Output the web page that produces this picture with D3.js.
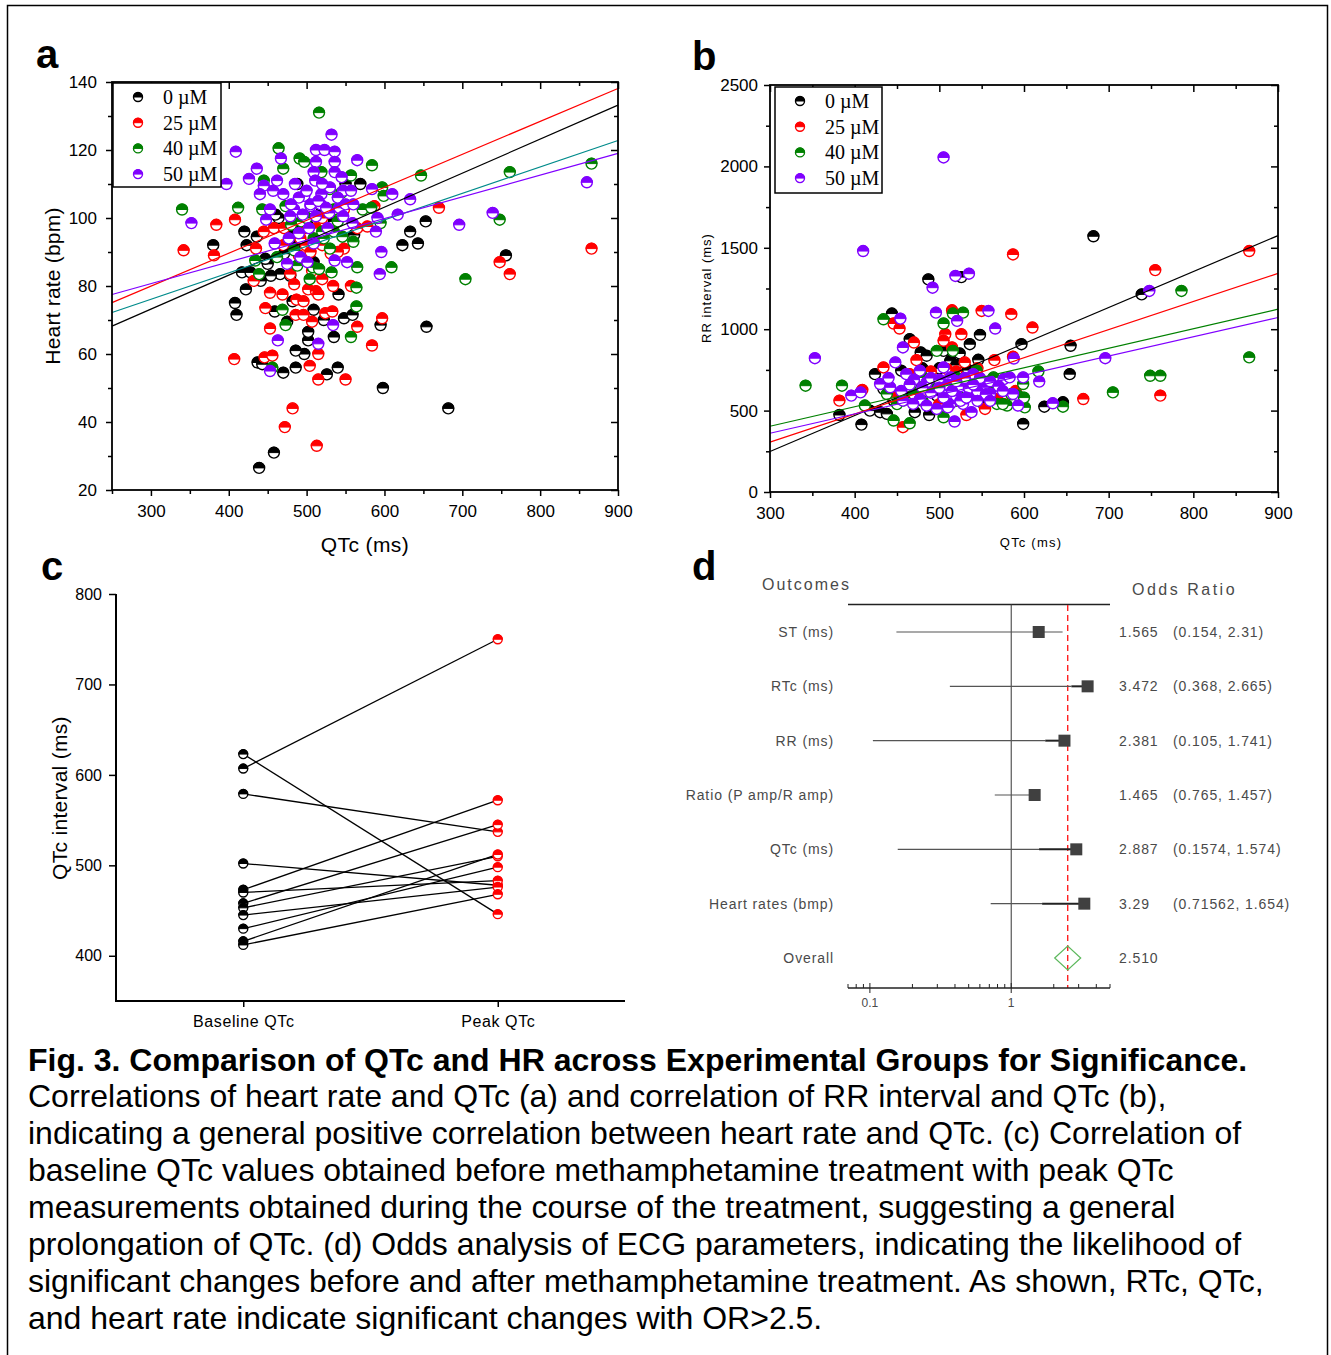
<!DOCTYPE html>
<html>
<head>
<meta charset="utf-8">
<script src="https://cdn.jsdelivr.net/npm/d3@7"></script>
<style>
  body { margin: 0; background: #fff; }
  svg text { font-family: "Liberation Sans", Arial, sans-serif; }
</style>
</head>
<body>
<svg id="fig" width="1331" height="1355"></svg>
<script>
// ---- DATA ----
const concLabels = ['0 \u00b5M', '25 \u00b5M', '40 \u00b5M', '50 \u00b5M'];

// panel a: [QTc (ms), heart rate (bpm)]
const hrQtc0 = [[439,26.5],[458,31],[682,44],[598,50],[654,68],[756,89],[526,54],[540,56],[486,56],[470,54.5],
  [437,57.5],[443,57],[497,60],[486,61],[502,64],[502,66.5],[535,65],[522,70],[548,70.5],[559,71.5],
  [595,68.5],[459,72.5],[509,73],[475,69.5],[482,75.5],[541,77.5],[410,71.5],[408,75],[422,79],[417,84],
  [428,84],[441,81.5],[466,83.5],[479,83],[450,86.5],[380,92],[423,92],[420,96],[436,94.5],[447,88],
  [471,89.5],[486,96],[501,98],[561,95],[623,92],[633,96],[643,92.5],[653,99],[550,110],[569,110],
  [488,110],[535,99],[464,100],[454,83],[484,92],[520,95],[509,87],[500,100],[520,102],[480,95],[460,101]];
const hrQtc25 = [[513,33],[472,38.5],[482,44],[515,52.5],[550,52.5],[504,56.5],[515,60],[407,58.5],[446,59],[456,59.5],
  [584,62.5],[453,67.5],[507,69.5],[486,71.5],[496,71.5],[524,72],[533,72.5],[565,68],[597,70.5],[447,73.5],
  [453,78],[469,77.5],[487,76],[496,75.5],[502,79],[512,78.5],[515,77.5],[484,80.5],[534,80],[557,80],
  [520,82],[479,83.5],[432,81.5],[507,84.5],[342,90.5],[381,89],[531,89.5],[548,91],[499,92],[435,91],
  [445,96],[458,97],[471,97],[492,94],[498,97],[512,97],[384,98],[408,99.5],[565,97],[578,97.5],
  [587,103.5],[670,103],[748,87],[761,83.5],[866,91],[520,100],[548,102.5],[490,89],[505,90],[520,92],
  [470,92],[540,90]];
const hrQtc40 = [[516,131],[464,120.5],[491,117.5],[497,116.5],[470,114.5],[584,115.5],[557,112.5],[519,113.5],[647,112.5],[761,113.5],
  [866,116],[445,111],[530,108.5],[545,107.5],[597,109],[599,106.5],[340,102.5],[412,103],[443,102.5],[473,103.5],
  [572,102.5],[583,103],[748,99.5],[535,96],[546,94.5],[522,94],[509,94],[484,90.5],[462,88.5],[434,87.5],
  [488,86],[508,85.5],[565,85.5],[609,85.5],[439,83.5],[504,82],[532,84],[564,79.5],[704,82],[469,73],
  [564,74],[473,68.5],[557,65],[456,56],[595,98.5],[493,99],[516,85],[535,102.5],[500,100],[520,96],
  [540,99],[480,98],[560,93],[530,91]];
const hrQtc50 = [[532,124.5],[512,120],[523,120],[536,119.5],[409,119.5],[467,117.5],[565,117],[512,116.5],[536,116.5],[436,114.5],
  [509,113.5],[536,113.5],[426,111.5],[462,111],[485,110],[511,111],[397,110],[445,109.5],[457,108],[497,106.5],
  [519,107],[547,108],[557,108],[584,108.5],[610,107],[633,105.5],[440,107],[453,102.5],[505,103.5],[518,104],
  [542,103],[484,102.5],[448,99.5],[479,100.5],[512,100.5],[529,101.5],[547,100.5],[591,100],[617,101],[739,101.5],
  [352,98.5],[559,98.5],[696,98],[860,110.5],[589,96],[490,95.5],[477,94],[459,92.5],[509,92.5],[492,88.5],
  [596,90],[475,86.5],[501,87],[536,87.5],[552,87],[594,83.5],[534,68.5],[463,64],[515,63],[453,55],
  [490,106],[500,108],[505,104],[515,105],[525,103],[530,109],[540,106],[550,104],[495,101],[520,110],
  [545,112],[480,104],[470,107],[560,104],[503,97],[527,97]];

// linear fits for panel a: [x0, y0, x1, y1]
const fitA = [[250,68.2,900,133.2],[250,75.1,900,138.1],[250,72.2,900,122.8],[250,77.5,900,119]];

// panel b: [QTc (ms), RR interval (ms)]
const rrQtc0 = [[682,1571],[739,1214],[487,1306],[526,1320],[444,1096],[465,939],[536,908],[548,965],[597,908],[655,898],
  [654,724],[546,812],[478,857],[485,837],[524,851],[424,724],[434,633],[382,473],[408,414],[418,500],
  [430,490],[438,480],[471,490],[488,473],[599,418],[624,524],[646,551],[505,867],[534,749],[455,745],
  [513,806],[568,561],[552,541],[446,561],[473,663],[497,592],[536,663],[520,724],[560,663],[465,582],
  [500,760],[520,780],[480,760],[540,700],[455,600]];
const rrQtc25 = [[866,1480],[587,1459],[755,1363],[515,1116],[550,1112],[585,1092],[610,1010],[446,1035],[453,1004],[507,969],
  [526,969],[470,918],[473,810],[565,810],[587,831],[434,765],[509,755],[530,796],[409,627],[382,561],
  [446,582],[670,571],[761,592],[457,398],[532,473],[554,510],[489,684],[540,704],[479,622],[568,571],
  [515,888],[505,929],[465,724],[576,541],[520,561],[490,740],[520,740],[545,760],[470,660],[500,540],
  [560,600],[590,620]];
const rrQtc40 = [[866,827],[786,1235],[749,714],[761,714],[705,612],[617,741],[528,1102],[516,1096],[434,1061],[505,1035],
  [342,653],[385,653],[412,531],[446,439],[465,422],[505,459],[646,524],[601,520],[580,531],[568,541],
  [593,592],[599,663],[556,663],[497,867],[516,867],[467,663],[493,633],[520,704],[532,602],[544,745],
  [438,602],[481,704],[457,561],[564,704],[520,561],[510,640],[530,640],[545,690],[470,600],[560,620],
  [585,600],[600,580],[480,560],[450,540],[575,540]];
const rrQtc50 = [[505,2055],[410,1480],[519,1327],[535,1341],[492,1255],[558,1112],[496,1102],[454,1065],[521,1051],[566,1004],
  [588,820],[353,822],[748,1235],[696,822],[618,678],[396,592],[407,612],[634,545],[518,433],[457,888],
  [448,796],[461,724],[477,745],[505,765],[513,704],[528,684],[540,724],[548,663],[430,663],[442,643],
  [457,561],[477,571],[505,622],[520,622],[536,602],[528,541],[513,541],[538,490],[576,694],[583,704],
  [587,602],[593,531],[599,704],[552,643],[497,510],[469,541],[544,582],[485,673],[560,602],
  [490,700],[500,690],[510,660],[525,650],[535,640],[545,620],[555,600],[520,590],[505,580],[490,610],
  [480,640],[470,690],[465,660],[530,700],[548,700],[560,680],[570,650],[575,620],[515,620],[500,640],
  [540,660],[525,560],[545,560],[560,560],[510,520],[485,530],[455,620],[440,700],[520,680],[532,580]];

// linear fits for panel b: [x0, y0, x1, y1]
const fitB = [[300,249,900,1575],[300,306,900,1343],[300,404,900,1123],[300,361,900,1072]];

// panel c: paired QTc (ms)
const cCategories = ['Baseline QTc', 'Peak QTc'];
const baselineQtc = [623, 607, 579, 502, 473, 470, 458, 453, 445, 430, 416, 412];
const peakQtc     = [446, 750, 537, 478, 572, 483, 545, 510, 476, 498, 512, 468];

// panel d: forest plot
const outcomes = ['ST (ms)', 'RTc (ms)', 'RR (ms)', 'Ratio (P amp/R amp)', 'QTc (ms)', 'Heart rates  (bmp)'];
const oddsRatio = [1.565, 3.472, 2.381, 1.465, 2.887, 3.29];
const ciLow  = [0.154, 0.368, 0.105, 0.765, 0.1574, 0.71562];
const ciHigh = [2.31, 2.665, 1.741, 1.457, 1.574, 1.654];
const orLabels = ['1.565', '3.472', '2.381', '1.465', '2.887', '3.29'];
const ciLabels = ['(0.154, 2.31)', '(0.368, 2.665)', '(0.105, 1.741)', '(0.765, 1.457)', '(0.1574, 1.574)', '(0.71562, 1.654)'];
const overallOR = 2.510;
const overallLabel = '2.510';

const captionTitle = 'Fig. 3. Comparison of QTc and HR across Experimental Groups for Significance.';
const captionLines = [
  'Correlations of heart rate and QTc (a) and correlation of RR interval and QTc (b),',
  'indicating a general positive correlation between heart rate and QTc. (c) Correlation of',
  'baseline QTc values obtained before methamphetamine treatment with peak QTc',
  'measurements obtained during the course of the treatment, suggesting a general',
  'prolongation of QTc. (d) Odds analysis of ECG parameters, indicating the likelihood of',
  'significant changes before and after methamphetamine treatment. As shown, RTc, QTc,',
  'and heart rate indicate significant changes with OR>2.5.'
];

// ---- STYLES ----
const groupColors = ['#000000', '#ff0000', '#008000', '#8000ff'];
const fitAColors  = ['#000000', '#ff0000', '#008b8b', '#8000ff'];
const fitBColors  = ['#000000', '#ff0000', '#008000', '#8000ff'];

const svg = d3.select('#fig');
svg.append('rect').attr('width', 1331).attr('height', 1355).attr('fill', '#fff');
svg.append('rect').attr('x', 7.5).attr('y', 5.5).attr('width', 1320).attr('height', 1360)
  .attr('fill', 'none').attr('stroke', '#000').attr('stroke-width', 1.5);

// half-filled circle marker
function marker(g, cx, cy, color, r) {
  g.append('circle').attr('cx', cx).attr('cy', cy).attr('r', r)
    .attr('fill', '#fff').attr('stroke', color).attr('stroke-width', 1.4);
  g.append('path')
    .attr('d', `M${cx - r},${cy} A${r},${r} 0 0 1 ${cx + r},${cy} Z`)
    .attr('fill', color).attr('stroke', color).attr('stroke-width', 1);
}

function styleAxis(g, fs) {
  g.select('.domain').remove();
  g.selectAll('.tick line').attr('stroke', '#000').attr('stroke-width', 1.5);
  g.selectAll('.tick text').style('font-size', fs + 'px').attr('fill', '#000');
}

function panelLetter(txt, x, y) {
  svg.append('text').attr('x', x).attr('y', y).text(txt)
    .style('font-size', '40px').style('font-weight', 'bold');
}

// framed scatter panel (a, b)
function scatterPanel(opt) {
  const { xScale, yScale, groups, fits, fitColors, xMajor, xMinor, yMajor, yMinor, fs, r, padX, padY } = opt;
  const [x0, x1] = xScale.range();
  const [y0, y1] = yScale.range(); // bottom, top
  const g = svg.append('g');
  const fmt = d3.format('d');

  // minor ticks
  const minorTicks = (axisGen, vals, transform) => {
    const a = g.append('g').attr('transform', transform)
      .call(axisGen.tickValues(vals).tickFormat(''));
    styleAxis(a, fs);
  };
  minorTicks(d3.axisBottom(xScale).tickSize(4), xMinor, `translate(0,${y0})`);
  minorTicks(d3.axisTop(xScale).tickSize(-4), xMinor, `translate(0,${y1})`);
  minorTicks(d3.axisLeft(yScale).tickSize(4), yMinor, `translate(${x0},0)`);
  minorTicks(d3.axisRight(yScale).tickSize(-4), yMinor, `translate(${x1},0)`);

  // major ticks and labels
  const bx = g.append('g').attr('transform', `translate(0,${y0})`)
    .call(d3.axisBottom(xScale).tickValues(xMajor).tickSize(6).tickPadding(padX).tickFormat(fmt));
  styleAxis(bx, fs);
  const tx = g.append('g').attr('transform', `translate(0,${y1})`)
    .call(d3.axisTop(xScale).tickValues(xMajor).tickSize(-7).tickFormat(''));
  styleAxis(tx, fs);
  const ly = g.append('g').attr('transform', `translate(${x0},0)`)
    .call(d3.axisLeft(yScale).tickValues(yMajor).tickSize(6).tickPadding(padY).tickFormat(fmt));
  styleAxis(ly, fs);
  const ry = g.append('g').attr('transform', `translate(${x1},0)`)
    .call(d3.axisRight(yScale).tickValues(yMajor).tickSize(-7).tickFormat(''));
  styleAxis(ry, fs);

  // points
  const pts = g.append('g');
  groups.forEach((grp, i) => {
    grp.forEach(d => marker(pts, xScale(d[0]), yScale(d[1]), groupColors[i], r));
  });

  // fit lines
  fits.forEach((f, i) => {
    g.append('line')
      .attr('x1', xScale(f[0])).attr('y1', yScale(f[1]))
      .attr('x2', xScale(f[2])).attr('y2', yScale(f[3]))
      .attr('stroke', fitColors[i]).attr('stroke-width', 1.2);
  });

  // frame
  g.append('rect').attr('x', x0).attr('y', y1).attr('width', x1 - x0).attr('height', y0 - y1)
    .attr('fill', 'none').attr('stroke', '#000').attr('stroke-width', 1.8);
  return g;
}

function legend(x, y, w, h, rowH) {
  const g = svg.append('g');
  g.append('rect').attr('x', x).attr('y', y).attr('width', w).attr('height', h)
    .attr('fill', '#fff').attr('stroke', '#000').attr('stroke-width', 1.5);
  concLabels.forEach((lab, i) => {
    const cy = y + 14 + i * rowH;
    marker(g, x + 25, cy, groupColors[i], 4.5);
    g.append('text').attr('x', x + 50).attr('y', cy + 7).text(lab)
      .style('font-family', '"Liberation Serif", "Times New Roman", serif').style('font-size', '20px');
  });
}

// ---- PANEL A ----
const xA = d3.scaleLinear().domain([250, 900]).range([112, 618]);
const yA = d3.scaleLinear().domain([20, 140]).range([490, 82]);
scatterPanel({
  xScale: xA, yScale: yA, groups: [hrQtc0, hrQtc25, hrQtc40, hrQtc50],
  fits: fitA, fitColors: fitAColors,
  xMajor: [300, 400, 500, 600, 700, 800, 900], xMinor: [250, 350, 450, 550, 650, 750, 850],
  yMajor: [20, 40, 60, 80, 100, 120, 140], yMinor: [30, 50, 70, 90, 110, 130],
  fs: 17, r: 5.5, padX: 9, padY: 9
});
legend(113, 83, 108, 104, 25.7);
svg.append('text').attr('x', 365).attr('y', 552).attr('text-anchor', 'middle')
  .style('font-size', '21px').style('letter-spacing', '0.4px').text('QTc (ms)');
svg.append('text').attr('transform', 'translate(60,286) rotate(-90)').attr('text-anchor', 'middle')
  .style('font-size', '21px').style('letter-spacing', '0.2px').text('Heart rate (bpm)');
panelLetter('a', 36, 68);

// ---- PANEL B ----
const xB = d3.scaleLinear().domain([300, 900]).range([770, 1278]);
const yB = d3.scaleLinear().domain([0, 2500]).range([492, 85]);
scatterPanel({
  xScale: xB, yScale: yB, groups: [rrQtc0, rrQtc25, rrQtc40, rrQtc50],
  fits: fitB, fitColors: fitBColors,
  xMajor: [300, 400, 500, 600, 700, 800, 900], xMinor: [350, 450, 550, 650, 750, 850],
  yMajor: [0, 500, 1000, 1500, 2000, 2500], yMinor: [250, 750, 1250, 1750, 2250],
  fs: 17, r: 5.5, padX: 9, padY: 6
});
legend(775, 87, 107, 106, 25.7);
svg.append('text').attr('x', 1031).attr('y', 547).attr('text-anchor', 'middle')
  .style('font-size', '13px').style('letter-spacing', '1.2px').text('QTc (ms)');
svg.append('text').attr('transform', 'translate(711,288) rotate(-90)').attr('text-anchor', 'middle')
  .style('font-size', '13px').style('letter-spacing', '1px').text('RR interval (ms)');
panelLetter('b', 692, 70);

// ---- PANEL C ----
const xC = d3.scaleLinear().domain([0.5, 2.5]).range([116, 625]);
const yC = d3.scaleLinear().domain([350, 800]).range([1001, 594]);
const gC = svg.append('g');
const cyAxis = gC.append('g').attr('transform', 'translate(116,0)')
  .call(d3.axisLeft(yC).tickValues([400, 500, 600, 700, 800]).tickSize(7).tickPadding(7));
styleAxis(cyAxis, 16);
const cxAxis = gC.append('g').attr('transform', 'translate(0,1001)')
  .call(d3.axisBottom(xC).tickValues([1, 2]).tickSize(6).tickPadding(9).tickFormat((d, i) => cCategories[i]));
styleAxis(cxAxis, 16);
cxAxis.selectAll('.tick text').style('letter-spacing', '0.6px');
gC.append('line').attr('x1', 116).attr('x2', 116).attr('y1', 594).attr('y2', 1002)
  .attr('stroke', '#000').attr('stroke-width', 2);
gC.append('line').attr('x1', 115).attr('x2', 625).attr('y1', 1001).attr('y2', 1001)
  .attr('stroke', '#000').attr('stroke-width', 2);
baselineQtc.forEach((b, i) => {
  gC.append('line').attr('x1', xC(1)).attr('y1', yC(b)).attr('x2', xC(2)).attr('y2', yC(peakQtc[i]))
    .attr('stroke', '#000').attr('stroke-width', 1.3);
});
baselineQtc.forEach(b => marker(gC, xC(1), yC(b), '#000', 4.5));
peakQtc.forEach(p => marker(gC, xC(2), yC(p), '#ff0000', 4.5));
svg.append('text').attr('transform', 'translate(67,798) rotate(-90)').attr('text-anchor', 'middle')
  .style('font-size', '21px').style('letter-spacing', '0.3px').text('QTc interval (ms)');
panelLetter('c', 41, 580);

// ---- PANEL D ----
const xD = d3.scaleLog().domain([0.07, 5]).range([848, 1110]);
const rowY = d3.scalePoint().domain(d3.range(outcomes.length + 1)).range([632, 958]);
const gD = svg.append('g');
const greyText = '#4a4a4a';
const rowFont = '14px', rowSpacing = '0.9px';

gD.append('text').attr('x', 762).attr('y', 590).text('Outcomes')
  .style('font-size', '16px').style('letter-spacing', '2px').attr('fill', greyText);
gD.append('text').attr('x', 1132).attr('y', 595).text('Odds Ratio')
  .style('font-size', '16px').style('letter-spacing', '2.5px').attr('fill', greyText);
gD.append('line').attr('x1', 848).attr('x2', 1110).attr('y1', 604.5).attr('y2', 604.5)
  .attr('stroke', '#222').attr('stroke-width', 1.5);
gD.append('line').attr('x1', xD(1)).attr('x2', xD(1)).attr('y1', 604).attr('y2', 988)
  .attr('stroke', '#333').attr('stroke-width', 1);
gD.append('line').attr('x1', xD(overallOR)).attr('x2', xD(overallOR)).attr('y1', 605).attr('y2', 988)
  .attr('stroke', '#ff2020').attr('stroke-width', 1.4).attr('stroke-dasharray', '6,4');

outcomes.forEach((o, i) => {
  const y = rowY(i);
  gD.append('text').attr('x', 834).attr('y', y + 5).attr('text-anchor', 'end').text(o)
    .style('font-size', rowFont).style('letter-spacing', rowSpacing).attr('fill', greyText);
  gD.append('line').attr('x1', xD(ciLow[i])).attr('x2', xD(ciHigh[i])).attr('y1', y).attr('y2', y)
    .attr('stroke', '#555').attr('stroke-width', 1.1);
  if (oddsRatio[i] > ciHigh[i]) {
    gD.append('line').attr('x1', xD(ciHigh[i])).attr('x2', xD(oddsRatio[i])).attr('y1', y).attr('y2', y)
      .attr('stroke', '#222').attr('stroke-width', 2);
  }
  gD.append('rect').attr('x', xD(oddsRatio[i]) - 6).attr('y', y - 6).attr('width', 12).attr('height', 12)
    .attr('fill', '#404040');
  gD.append('text').attr('x', 1119).attr('y', y + 5).text(orLabels[i])
    .style('font-size', rowFont).style('letter-spacing', rowSpacing).attr('fill', greyText);
  gD.append('text').attr('x', 1173).attr('y', y + 5).text(ciLabels[i])
    .style('font-size', rowFont).style('letter-spacing', rowSpacing).attr('fill', greyText);
});

// overall diamond
const yO = rowY(outcomes.length);
const cxO = xD(overallOR);
gD.append('path').attr('d', `M${cxO - 13},${yO} L${cxO},${yO - 12} L${cxO + 13},${yO} L${cxO},${yO + 12} Z`)
  .attr('fill', 'none').attr('stroke', '#5cb85c').attr('stroke-width', 1.2);
gD.append('text').attr('x', 834).attr('y', yO + 5).attr('text-anchor', 'end').text('Overall')
  .style('font-size', rowFont).style('letter-spacing', rowSpacing).attr('fill', greyText);
gD.append('text').attr('x', 1119).attr('y', yO + 5).text(overallLabel)
  .style('font-size', rowFont).style('letter-spacing', rowSpacing).attr('fill', greyText);

// log axis
const minorLog = [0.07, 0.08, 0.09, 0.2, 0.3, 0.4, 0.5, 0.6, 0.7, 0.8, 0.9, 2, 3, 4, 5];
gD.append('line').attr('x1', 848).attr('x2', 1110).attr('y1', 988).attr('y2', 988)
  .attr('stroke', '#222').attr('stroke-width', 1.5);
minorLog.forEach(v => {
  gD.append('line').attr('x1', xD(v)).attr('x2', xD(v)).attr('y1', 984).attr('y2', 988)
    .attr('stroke', '#222').attr('stroke-width', 1);
});
[0.1, 1].forEach(v => {
  gD.append('line').attr('x1', xD(v)).attr('x2', xD(v)).attr('y1', 983).attr('y2', 993)
    .attr('stroke', '#222').attr('stroke-width', 1);
  gD.append('text').attr('x', xD(v)).attr('y', 1007).attr('text-anchor', 'middle').text(v === 1 ? '1' : '0.1')
    .style('font-size', '12px').attr('fill', greyText);
});
panelLetter('d', 692, 580);

// ---- CAPTION ----
svg.append('text').attr('x', 28).attr('y', 1071).text(captionTitle)
  .style('font-size', '32px').style('font-weight', 'bold');
captionLines.forEach((t, i) => {
  svg.append('text').attr('x', 28).attr('y', 1107 + i * 37).text(t).style('font-size', '32px');
});
</script>
</body>
</html>
